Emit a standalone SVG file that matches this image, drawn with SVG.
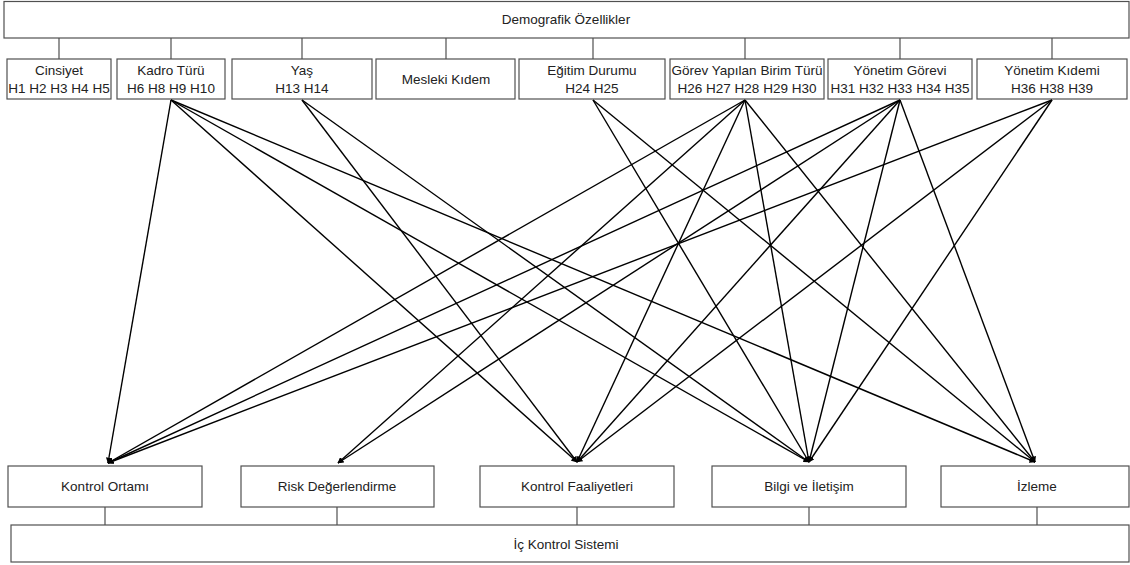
<svg xmlns="http://www.w3.org/2000/svg" width="1130" height="565" viewBox="0 0 1130 565">
<style>
.box{fill:#fff;stroke:#505050;stroke-width:1.2}
.tree{stroke:#505050;stroke-width:1.2;fill:none}
.t{font-family:"Liberation Sans",Arial,sans-serif;font-size:13.5px;fill:#222;text-anchor:middle}
.c{stroke:#000;stroke-width:1.4;fill:none;marker-end:url(#ah)}
</style>
<defs>
<marker id="ah" viewBox="0 0 10 10" refX="9" refY="5" markerWidth="6" markerHeight="6" markerUnits="userSpaceOnUse" orient="auto"><path d="M0,0 L10,5 L0,10 z" fill="#000"/></marker>
</defs>
<rect width="1130" height="565" fill="#fff"/>
<g id="tree-lines">
<path class="tree" d="M59,38V59M171,38V59M302,38V59M446,38V59M593,38V59M745,38V59M900,38V59M1052,38V59"/>
<path class="tree" d="M105,507V525M337,507V525M577,507V525M809,507V525M1037,507V525"/>
</g>
<g id="demografik"><rect class="box" x="4" y="1.5" width="1125" height="36.5"/><text class="t" x="566" y="24">Demografik Özellikler</text></g>
<g id="cinsiyet"><rect class="box" x="7" y="59" width="104" height="40"/><text class="t" x="59" y="75">Cinsiyet</text><text class="t" x="59" y="93">H1 H2 H3 H4 H5</text></g>
<g id="kadro"><rect class="box" x="117" y="59" width="108" height="40"/><text class="t" x="171" y="75">Kadro Türü</text><text class="t" x="171" y="93">H6 H8 H9 H10</text></g>
<g id="yas"><rect class="box" x="232" y="59" width="140" height="40"/><text class="t" x="302" y="75">Yaş</text><text class="t" x="302" y="93">H13 H14</text></g>
<g id="mesleki"><rect class="box" x="376" y="59" width="139" height="40"/><text class="t" x="446" y="84">Mesleki Kıdem</text></g>
<g id="egitim"><rect class="box" x="519" y="59" width="146" height="40"/><text class="t" x="592" y="75">Eğitim Durumu</text><text class="t" x="592" y="93">H24 H25</text></g>
<g id="gorev"><rect class="box" x="670" y="59" width="154" height="40"/><text class="t" x="747" y="75">Görev Yapılan Birim Türü</text><text class="t" x="747" y="93">H26 H27 H28 H29 H30</text></g>
<g id="yonetim-gorevi"><rect class="box" x="828" y="59" width="144" height="40"/><text class="t" x="900" y="75">Yönetim Görevi</text><text class="t" x="900" y="93">H31 H32 H33 H34 H35</text></g>
<g id="yonetim-kidemi"><rect class="box" x="977" y="59" width="150" height="40"/><text class="t" x="1052" y="75">Yönetim Kıdemi</text><text class="t" x="1052" y="93">H36 H38 H39</text></g>
<g id="kontrol-ortami"><rect class="box" x="8" y="466" width="194" height="41"/><text class="t" x="105" y="491">Kontrol Ortamı</text></g>
<g id="risk"><rect class="box" x="241" y="466" width="193" height="41"/><text class="t" x="337" y="491">Risk Değerlendirme</text></g>
<g id="kontrol-faaliyetleri"><rect class="box" x="480" y="466" width="194" height="41"/><text class="t" x="577" y="491">Kontrol Faaliyetleri</text></g>
<g id="bilgi"><rect class="box" x="712" y="466" width="194" height="41"/><text class="t" x="809" y="491">Bilgi ve İletişim</text></g>
<g id="izleme"><rect class="box" x="941" y="466" width="188" height="41"/><text class="t" x="1037" y="491">İzleme</text></g>
<g id="ic-kontrol"><rect class="box" x="11" y="525" width="1118" height="37"/><text class="t" x="566" y="549">İç Kontrol Sistemi</text></g>
<g id="connectors">
<line class="c" x1="171" y1="100" x2="108" y2="463"/>
<line class="c" x1="171" y1="100" x2="577" y2="462"/>
<line class="c" x1="171" y1="100" x2="809" y2="462"/>
<line class="c" x1="171" y1="100" x2="1035" y2="462"/>
<line class="c" x1="302" y1="100" x2="577" y2="462"/>
<line class="c" x1="302" y1="100" x2="809" y2="462"/>
<line class="c" x1="593" y1="100" x2="809" y2="462"/>
<line class="c" x1="593" y1="100" x2="1035" y2="462"/>
<line class="c" x1="745" y1="100" x2="108" y2="463"/>
<line class="c" x1="745" y1="100" x2="338" y2="463"/>
<line class="c" x1="745" y1="100" x2="577" y2="462"/>
<line class="c" x1="745" y1="100" x2="809" y2="462"/>
<line class="c" x1="745" y1="100" x2="1035" y2="462"/>
<line class="c" x1="900" y1="100" x2="108" y2="463"/>
<line class="c" x1="900" y1="100" x2="338" y2="463"/>
<line class="c" x1="900" y1="100" x2="577" y2="462"/>
<line class="c" x1="900" y1="100" x2="809" y2="462"/>
<line class="c" x1="900" y1="100" x2="1035" y2="462"/>
<line class="c" x1="1052" y1="100" x2="108" y2="463"/>
<line class="c" x1="1052" y1="100" x2="577" y2="462"/>
<line class="c" x1="1052" y1="100" x2="809" y2="462"/>
</g>
</svg>
